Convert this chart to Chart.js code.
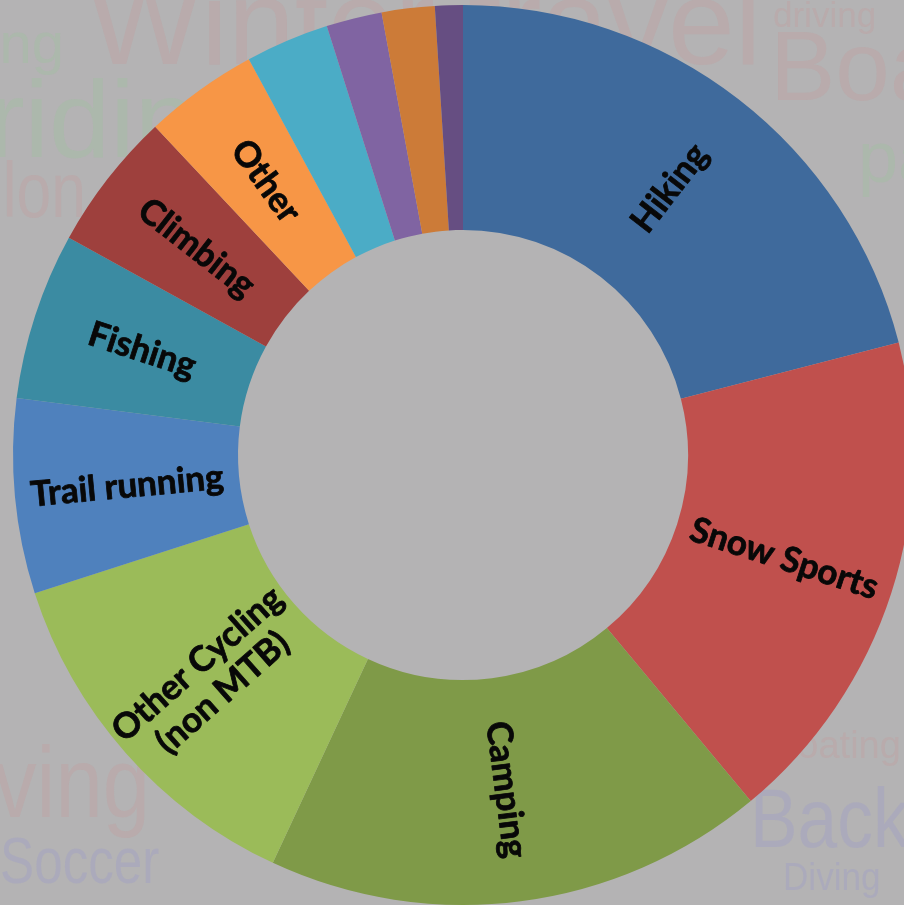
<!DOCTYPE html>
<html>
<head>
<meta charset="utf-8">
<script src="https://cdn.jsdelivr.net/npm/chart.js@4"></script>
<style>
  html, body { margin: 0; padding: 0; overflow: hidden; background: #b4b3b4; }
  #wrap { position: absolute; left: 0; top: 0; width: 926px; height: 910px; }
</style>
</head>
<body>
<div id="wrap"><canvas id="c" width="926" height="910"></canvas></div>
<script>
// Activities and their share of respondents (%), clockwise from 12 o'clock
const categories = ['Hiking', 'Snow Sports', 'Camping', ['Other Cycling', '(non MTB)'],
  'Trail running', 'Fishing', 'Climbing', 'Other', '', '', '', ''];
const shares = [21, 18, 18, 13.1, 7, 6, 5, 4.1, 3, 2, 1.9, 1];

const sliceColors = ['#3f6a9c', '#c0504d', '#7f9a48', '#9bbb59', '#4f81bd', '#3b8ba2',
  '#9e403d', '#f79646', '#4bacc6', '#8064a2', '#cc7b38', '#664e82'];

// faint word-cloud backdrop
const RED = 'rgba(205,140,140,0.20)', GREEN = 'rgba(140,205,140,0.19)', BLUE = 'rgba(140,140,215,0.22)';
const backdropWords = [
  { t: 'Winter travel', x: 88, y: 64, s: 120, c: RED },
  { t: 'driving', x: 773, y: 27, s: 35, c: RED },
  { t: 'Boating', x: 770, y: 100, s: 98, c: RED },
  { t: 'paddling', x: 858, y: 182, s: 72, c: GREEN },
  { t: 'Biking', x: 64, y: 63, s: 58, c: GREEN, a: 'right' },
  { t: 'Horse riding', x: 257, y: 157, s: 110, c: GREEN, a: 'right' },
  { t: 'Triathlon', x: 86, y: 217, s: 78, c: RED, a: 'right', sx: 0.8 },
  { t: 'Skydiving', x: 150, y: 817, s: 100, c: RED, a: 'right', sx: 0.85 },
  { t: 'Soccer', x: 0, y: 883, s: 64, c: BLUE, sx: 0.8 },
  { t: 'Backpacking', x: 750, y: 847, s: 84, c: BLUE, sx: 0.85 },
  { t: 'Diving', x: 783, y: 890, s: 39, c: BLUE, sx: 0.9 },
  { t: 'Boating', x: 772, y: 758, s: 38, c: RED }
];

const backdrop = {
  id: 'backdrop',
  beforeDraw(chart) {
    const ctx = chart.ctx;
    ctx.save();
    ctx.fillStyle = '#b4b3b4';
    ctx.fillRect(0, 0, chart.width, chart.height);
    ctx.textBaseline = 'alphabetic';
    for (const w of backdropWords) {
      ctx.save();
      ctx.translate(w.x, w.y);
      ctx.scale(w.sx || 1, 1);
      ctx.font = w.s + 'px "Liberation Sans", Arial, sans-serif';
      ctx.textAlign = w.a || 'left';
      ctx.fillStyle = w.c;
      ctx.fillText(w.t, 0, 0);
      ctx.restore();
    }
    ctx.restore();
  }
};

// slice names drawn along each slice's radius, kept upright
const radialLabels = {
  id: 'radialLabels',
  afterDatasetsDraw(chart) {
    const ctx = chart.ctx;
    const meta = chart.getDatasetMeta(0);
    ctx.save();
    ctx.font = 'bold 35px Lato, "Open Sans", sans-serif';
    ctx.fillStyle = '#080808';
    ctx.strokeStyle = '#080808';
    ctx.lineWidth = 0.8;
    ctx.lineJoin = 'round';
    ctx.textAlign = 'center';
    ctx.textBaseline = 'middle';
    meta.data.forEach((arc, i) => {
      const label = chart.data.labels[i];
      const lines = Array.isArray(label) ? label : [label];
      if (!lines.join('')) return;
      const p = arc.getProps(['x', 'y', 'startAngle', 'endAngle', 'innerRadius', 'outerRadius'], true);
      const mid = (p.startAngle + p.endAngle) / 2;
      const r = (p.innerRadius + p.outerRadius) / 2;
      let rot = mid;
      if (Math.cos(rot) < 0) rot += Math.PI;
      ctx.save();
      ctx.translate(p.x + r * Math.cos(mid), p.y + r * Math.sin(mid));
      ctx.rotate(rot);
      const lh = 38;
      lines.forEach((ln, k) => {
        const dy = (k - (lines.length - 1) / 2) * lh;
        ctx.fillText(ln, 0, dy);
        ctx.strokeText(ln, 0, dy);
      });
      ctx.restore();
    });
    ctx.restore();
  }
};

new Chart(document.getElementById('c'), {
  type: 'doughnut',
  data: {
    labels: categories,
    datasets: [{
      data: shares,
      backgroundColor: sliceColors,
      borderWidth: 0,
      hoverOffset: 0,
      offset: 0
    }]
  },
  options: {
    responsive: false,
    animation: false,
    cutout: '50%',
    layout: { padding: 5 },
    plugins: { legend: { display: false }, tooltip: { enabled: false } },
    events: []
  },
  plugins: [backdrop, radialLabels]
});
</script>
</body>
</html>
